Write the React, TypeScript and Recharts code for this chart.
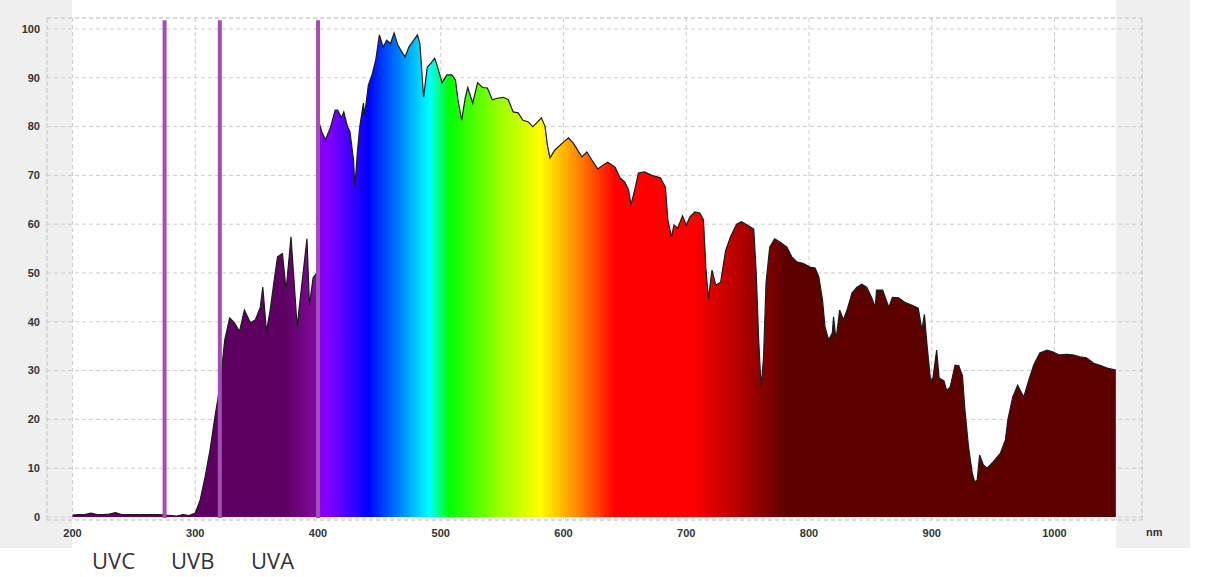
import React from "react";
import { AreaChart, Area, XAxis, YAxis, CartesianGrid, ReferenceLine } from "recharts";

// wavelength (nm) and relative irradiance (%)
const wavelengthNm = [
  200, 205, 210, 215, 220, 225, 230, 235, 240, 250, 260, 270, 280, 285, 290, 295,
  300, 304, 308, 312, 316, 320, 324, 328, 332, 336, 340, 345, 349, 353, 355, 358,
  361, 364, 367, 371, 374, 378, 383, 386, 391, 393, 396, 399, 401, 403, 406, 410,
  414, 416, 419, 421, 424, 426, 429, 430, 432, 434, 437, 438, 441, 444, 447, 450,
  453, 456, 459, 462, 465, 469, 471, 474, 478, 481, 483, 486, 489, 492, 495, 497,
  501, 505, 509, 512, 514, 517, 520, 522, 526, 530, 534, 538, 542, 546, 551, 555,
  559, 563, 567, 571, 575, 578, 582, 585, 587, 589, 593, 599, 604, 608, 615, 619,
  623, 628, 632, 636, 642, 646, 650, 653, 655, 658, 661, 666, 672, 679, 683, 685,
  688, 690, 693, 697, 700, 703, 707, 711, 714, 716, 718, 721, 724, 728, 732, 736,
  741, 745, 750, 755, 757, 759, 761, 763, 765, 768, 772, 776, 782, 786, 790, 795,
  801, 805, 808, 811, 813, 816, 819, 820, 822, 825, 828, 831, 835, 839, 843, 847,
  851, 854, 855, 860, 865, 868, 873, 878, 884, 889, 892, 894, 896, 899, 901, 904,
  906, 910, 912, 915, 919, 922, 925, 927, 930, 933, 935, 937, 939, 942, 945, 950,
  956, 960, 962, 966, 970, 972, 975, 979, 983, 988, 994, 999, 1004, 1010, 1015, 1021,
  1026, 1032, 1037, 1043, 1050,
];

const irradiance = [
  0.4, 0.5, 0.5, 0.8, 0.5, 0.5, 0.6, 0.9, 0.5, 0.5, 0.5, 0.5, 0.3, 0.2, 0.5, 0.3,
  0.8, 3.5, 8.2, 13.7, 20.5, 26.6, 36.3, 40.8, 39.8, 38, 42.4, 39.8, 40.4, 43, 47.1, 38,
  42.4, 48, 53.3, 54, 46.5, 57.4, 39, 45.9, 57, 43.4, 49, 50, 80.7, 79, 77.3, 79.7,
  83.4, 83.4, 81.8, 83, 80, 79, 73, 67.6, 74.6, 80, 84.8, 82.4, 88.5, 90.6, 93.6, 98.8,
  96.3, 97.7, 97, 99.2, 96.7, 95, 94.3, 96.3, 97.7, 98.8, 97, 86, 92.2, 93, 94, 92.6,
  89, 90.6, 90.6, 89.5, 85.5, 81.3, 86, 88, 84.8, 89, 88, 87.9, 85.5, 85.8, 86, 85.5,
  83, 82.8, 81.3, 81, 80, 80.7, 81.8, 80, 76, 73.6, 75.2, 76.6, 77.7, 76.6, 73.8, 74.8,
  73.2, 71.3, 72.1, 72.7, 71.7, 69.5, 68.6, 67, 64, 67, 70.5, 70.7, 70, 69.5, 67.6, 60.9,
  57.4, 59.8, 59.2, 61.7, 59.8, 61.5, 62.5, 62.3, 60.9, 51, 44.7, 50.6, 47.5, 48.1, 54.5, 57.4,
  60, 60.5, 59.8, 59, 50, 36.3, 26.6, 32.8, 48, 55.3, 57, 56.4, 55.3, 53.3, 52.3, 52,
  51.2, 51, 49.2, 44.5, 39, 36.3, 37.7, 41, 36.3, 42.4, 40.4, 42.4, 45.9, 47.1, 47.7, 47.1,
  45, 43, 46.5, 46.5, 43, 45, 44.9, 44, 43.4, 42.8, 38.3, 41.5, 35.7, 28, 28.5, 34.2,
  28.5, 27.9, 26, 26.6, 31.1, 31, 29, 22, 14.3, 9, 7.2, 7.5, 12.7, 10.7, 10, 11.3,
  13.1, 15.8, 19.9, 24.6, 27, 26, 24.6, 28, 31.1, 33.6, 34.2, 33.8, 33.2, 33.3, 33.2, 32.8,
  32.6, 31.5, 31.1, 30.5, 30.1,
];

const xTicks = [200, 300, 400, 500, 600, 700, 800, 900, 1000];
const yTicks = [0, 10, 20, 30, 40, 50, 60, 70, 80, 90, 100];
const bandEdges = [275, 320, 400];
const bandLabels = [
  { text: "UVC", left: 92 },
  { text: "UVB", left: 171 },
  { text: "UVA", left: 251 },
];

// spectrum colours along the wavelength axis
const spectrumStops = [
  { nm: 200, color: "#5e0062" },
  { nm: 372, color: "#5e0062" },
  { nm: 396, color: "#7c0a94" },
  { nm: 401, color: "#8400f0" },
  { nm: 410, color: "#8000ff" },
  { nm: 441, color: "#0000ff" },
  { nm: 466, color: "#0080ff" },
  { nm: 491, color: "#00ffff" },
  { nm: 507, color: "#00ff00" },
  { nm: 545, color: "#90ff00" },
  { nm: 581, color: "#ffff00" },
  { nm: 613, color: "#ff8000" },
  { nm: 642, color: "#ff0000" },
  { nm: 705, color: "#ff0000" },
  { nm: 745, color: "#b00000" },
  { nm: 782, color: "#5c0000" },
  { nm: 1050, color: "#5c0000" },
];

const xDomain = [179.2, 1071.3];
const yDomain = [-0.62, 102.25];

const data = wavelengthNm.map((nm, i) => ({ nm, v: irradiance[i] }));
const spanNm = wavelengthNm[wavelengthNm.length - 1] - wavelengthNm[0];

const tickStyle = { fontFamily: "'Liberation Sans', Arial, sans-serif", fontSize: 11, fontWeight: 700, fill: "#333" };
const gridColor = "#cdcdcd";

export default function App() {
  return (
    <div style={{ position: "absolute", left: 0, top: 0, width: 1225, height: 577, background: "#fff" }}>
      <div style={{ position: "absolute", left: 0, top: 0, width: 1190, height: 548, background: "#efefef" }} />
      <div style={{ position: "absolute", left: 72, top: 0, width: 1044, height: 548, background: "#fff" }} />
      <div style={{ position: "absolute", left: 0, top: 0 }}>
        <AreaChart width={1225} height={577} data={data} margin={{ top: 18, right: 83, bottom: 27, left: 0 }}>
          <defs>
            <linearGradient id="spectrum" x1="0" y1="0" x2="1" y2="0">
              {spectrumStops.map(s => (
                <stop key={s.nm} offset={(s.nm - wavelengthNm[0]) / spanNm} stopColor={s.color} />
              ))}
            </linearGradient>
          </defs>
          <CartesianGrid stroke={gridColor} strokeDasharray="4 3" />
          <XAxis
            dataKey="nm"
            type="number"
            domain={xDomain}
            ticks={xTicks}
            axisLine={false}
            tickLine={false}
            tickSize={0}
            tickMargin={9}
            height={30}
            tick={tickStyle}
            allowDataOverflow
          />
          <YAxis
            type="number"
            domain={yDomain}
            ticks={yTicks}
            axisLine={false}
            tickLine={false}
            tickSize={0}
            tickMargin={7}
            width={47}
            tick={tickStyle}
            allowDataOverflow
          />
          <ReferenceLine x={xDomain[0]} stroke={gridColor} strokeDasharray="4 3" />
          <ReferenceLine x={xDomain[1]} stroke={gridColor} strokeDasharray="4 3" />
          <ReferenceLine y={yDomain[0]} stroke={gridColor} strokeDasharray="4 3" />
          <ReferenceLine y={yDomain[1]} stroke={gridColor} strokeDasharray="4 3" />
          <Area
            type="linear"
            dataKey="v"
            baseValue={0}
            stroke="#1c1c1c"
            strokeWidth={1.2}
            fill="url(#spectrum)"
            fillOpacity={1}
            isAnimationActive={false}
            dot={false}
            activeDot={false}
          />
          {bandEdges.map(nm => (
            <ReferenceLine
              key={nm}
              segment={[{ x: nm, y: -0.2 }, { x: nm, y: 101.8 }]}
              stroke="#a24fb2"
              strokeWidth={4}
            />
          ))}
        </AreaChart>
      </div>
      <div style={{ position: "absolute", left: 1146, top: 526, font: "700 11px 'Liberation Sans', Arial, sans-serif", color: "#333" }}>nm</div>
      {bandLabels.map(b => (
        <div
          key={b.text}
          style={{ position: "absolute", left: b.left, top: 545, font: "400 22px 'Open Sans', 'Noto Sans', sans-serif", color: "#333" }}
        >
          {b.text}
        </div>
      ))}
    </div>
  );
}
